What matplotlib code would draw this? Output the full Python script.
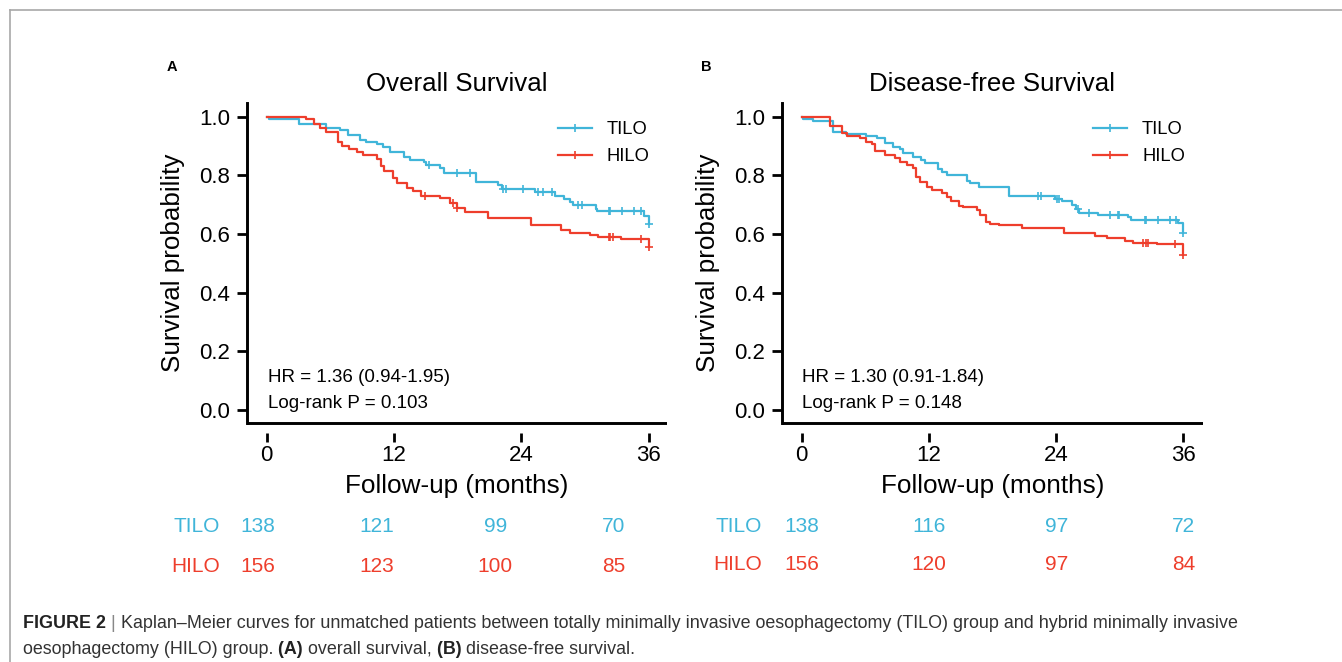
import numpy as np
import matplotlib
matplotlib.use('Agg')
import matplotlib.pyplot as plt
from matplotlib.lines import Line2D

plt.rcParams['font.family'] = ['Liberation Sans', 'DejaVu Sans']

W, H, DPI = 1342, 662, 100
TILO_COLOR = '#40B5D9'
HILO_COLOR = '#EE3E2C'

# ---------------- data ----------------
group_names = ['TILO', 'HILO']
risk_times = [0, 12, 24, 36]
x_ticks = [0, 12, 24, 36]
y_ticks = [0.0, 0.2, 0.4, 0.6, 0.8, 1.0]
y_tick_labels = ['0.0', '0.2', '0.4', '0.6', '0.8', '1.0']

# Panel A : overall survival
os_tilo_time = [0, 0.2, 3.0, 5.6, 6.9, 7.7, 8.8, 9.4, 10.4, 11.0, 11.6, 12.9, 13.5, 14.8,
                15.0, 16.3, 16.7, 19.7, 21.8, 22.2, 25.3, 27.2, 28.0, 28.6, 28.9, 31.0,
                31.1, 35.6, 36.0]
os_tilo_surv = [1.0, 0.993, 0.976, 0.961, 0.955, 0.936, 0.922, 0.915, 0.907, 0.898, 0.881,
                0.861, 0.852, 0.844, 0.837, 0.825, 0.808, 0.776, 0.768, 0.755, 0.743, 0.730,
                0.720, 0.709, 0.698, 0.686, 0.677, 0.661, 0.633]
os_tilo_censor = [15.3, 17.9, 19.2, 22.3, 22.6, 24.2, 25.6, 26.0, 26.9, 29.3, 29.7, 32.3,
                  32.4, 33.5, 34.6, 35.3, 36.0]

os_hilo_time = [0, 3.75, 4.5, 5.0, 5.6, 6.7, 7.1, 7.8, 8.5, 9.1, 10.4, 10.8, 11.1, 11.9,
                12.3, 13.2, 13.8, 14.5, 16.3, 17.3, 17.9, 18.7, 20.9, 24.9, 27.7, 28.6,
                30.5, 31.2, 33.4, 36.0]
os_hilo_surv = [1.0, 0.991, 0.976, 0.961, 0.947, 0.913, 0.901, 0.890, 0.878, 0.869, 0.857,
                0.832, 0.815, 0.792, 0.775, 0.758, 0.747, 0.730, 0.724, 0.707, 0.690, 0.675,
                0.655, 0.632, 0.614, 0.605, 0.597, 0.589, 0.582, 0.557]
os_hilo_censor = [14.9, 17.6, 17.9, 32.3, 32.4, 32.6, 35.3, 36.0]

os_risk_tilo = [138, 121, 99, 70]
os_risk_hilo = [156, 123, 100, 85]
os_stats = ['HR = 1.36 (0.94-1.95)', 'Log-rank P = 0.103']

# Panel B : disease-free survival
dfs_tilo_time = [0, 0.15, 1.1, 3.0, 4.2, 6.1, 7.1, 7.9, 8.6, 9.3, 9.6, 10.5, 11.3, 11.6,
                 12.9, 13.2, 13.7, 15.6, 15.9, 16.7, 19.6, 23.9, 24.6, 25.5, 25.9, 26.2,
                 28.0, 30.8, 31.1, 35.5, 36.0]
dfs_tilo_surv = [1.0, 0.991, 0.985, 0.947, 0.941, 0.934, 0.926, 0.909, 0.898, 0.889, 0.875,
                 0.864, 0.852, 0.841, 0.820, 0.813, 0.801, 0.781, 0.773, 0.759, 0.730, 0.720,
                 0.712, 0.699, 0.684, 0.672, 0.665, 0.657, 0.647, 0.638, 0.602]
dfs_tilo_censor = [22.3, 22.6, 24.1, 24.3, 26.1, 27.1, 29.1, 29.8, 29.9, 32.4, 32.5, 33.6,
                   34.7, 35.3, 36.0]

dfs_hilo_time = [0, 2.67, 3.77, 4.24, 5.5, 6.1, 6.6, 6.9, 7.9, 8.8, 9.3, 9.9, 10.5, 10.8,
                 11.2, 11.8, 12.3, 13.2, 13.7, 14.1, 14.8, 15.2, 16.5, 16.8, 17.4, 17.8,
                 18.6, 20.8, 24.7, 27.7, 28.8, 30.5, 31.3, 33.5, 36.0]
dfs_hilo_surv = [1.0, 0.968, 0.943, 0.934, 0.926, 0.915, 0.906, 0.883, 0.869, 0.858, 0.846,
                 0.835, 0.824, 0.795, 0.778, 0.759, 0.750, 0.739, 0.727, 0.712, 0.695, 0.691,
                 0.682, 0.665, 0.642, 0.634, 0.631, 0.622, 0.602, 0.593, 0.585, 0.577, 0.570,
                 0.565, 0.528]
dfs_hilo_censor = [32.2, 32.5, 32.7, 35.2, 36.0]

dfs_risk_tilo = [138, 116, 97, 72]
dfs_risk_hilo = [156, 120, 97, 84]
dfs_stats = ['HR = 1.30 (0.91-1.84)', 'Log-rank P = 0.148']

# ---------------- figure ----------------
fig = plt.figure(figsize=(W / DPI, H / DPI), dpi=DPI)


def px_axes(left, right, top, bottom):
    return fig.add_axes([left / W, 1 - bottom / H, (right - left) / W, (bottom - top) / H])


def step_value(times, surv, t):
    idx = np.searchsorted(np.asarray(times), np.asarray(t), side='right') - 1
    return np.asarray(surv)[idx]


Y_MIN, Y_MAX, Y_AXIS = -0.0784, 1.0467, -0.0453


def km_panel(box, xlim, letter, title, curves, stats):
    left, right, top, bottom = box
    hgt = bottom - top
    wid = right - left
    ax = px_axes(left, right, top, bottom)
    ax.set_xlim(*xlim)
    ax.set_ylim(Y_MIN, Y_MAX)
    handles = []
    for name, color, t, s, c in curves:
        ax.step(t, s, where='post', color=color, lw=1.6, zorder=3)
        ax.plot(c, step_value(t, s, c), ls='none', marker='+', ms=6, mew=1.2,
                color=color, zorder=4)
        handles.append(Line2D([], [], color=color, lw=1.6, marker='+', ms=6, mew=1.2,
                              label=name))
    for sp in ['top', 'right', 'bottom']:
        ax.spines[sp].set_visible(False)
    ax.spines['left'].set_linewidth(2.1)
    ax.spines['left'].set_bounds(Y_AXIS, Y_MAX)
    ax.axhline(Y_AXIS, color='black', lw=2.1, zorder=5)
    ax.set_xticks(x_ticks)
    ax.set_yticks(y_ticks)
    ax.set_yticklabels(y_tick_labels)
    ax.tick_params(axis='y', length=7, width=2, labelsize=16, pad=5)
    ax.tick_params(axis='x', length=6.5, width=2, labelsize=16, pad=2)
    ax.set_ylabel('Survival probability', fontsize=18.7)
    ax.yaxis.label.set_va('center')
    ax.yaxis.set_label_coords(-74.0 / wid, (bottom - 263) / hgt)
    ax.set_xlabel('Follow-up (months)', fontsize=18.8)
    ax.xaxis.set_label_coords(0.5, (bottom - 486) / hgt)
    ax.xaxis.label.set_va('center')
    ax.text(0.5, (bottom - 84) / hgt, title, transform=ax.transAxes,
            ha='center', va='center', fontsize=18.6)
    fig.text((left - 75) / W, 1 - 67 / H, letter, fontsize=10.5, fontweight='bold',
             ha='center', va='center')
    for txt, yy in zip(stats, [377.0, 403.5]):
        ax.text(20.5 / wid, (bottom - yy) / hgt, txt,
                transform=ax.transAxes, ha='left', va='center', fontsize=13.5)
    ax.legend(handles=handles, loc='upper left',
              bbox_to_anchor=(0.74, (bottom - 121) / hgt),
              frameon=False, fontsize=13.2, handlelength=1.85, handletextpad=0.8,
              labelspacing=0.55, borderpad=0, borderaxespad=0, numpoints=1)
    return ax


def risk_table(x0, x36, label_right, rows):
    rax = px_axes(x0, x36, 500, 590)
    rax.set_xlim(0, 36)
    rax.set_ylim(590, 500)
    rax.axis('off')
    ppm = (x36 - x0) / 36.0
    for name, color, counts, yy in rows:
        rax.text((label_right - x0) / ppm, yy, name, color=color, fontsize=15,
                 ha='right', va='center')
        for t, n in zip(risk_times, counts):
            rax.text(t, yy, str(n), color=color, fontsize=15, ha='center', va='center')


km_panel((247, 667, 103, 433), (-1.857, 37.73), 'A', 'Overall Survival',
         [(group_names[0], TILO_COLOR, os_tilo_time, os_tilo_surv, os_tilo_censor),
          (group_names[1], HILO_COLOR, os_hilo_time, os_hilo_surv, os_hilo_censor)],
         os_stats)
km_panel((781.7, 1203, 103, 433), (-1.887, 37.86), 'B', 'Disease-free Survival',
         [(group_names[0], TILO_COLOR, dfs_tilo_time, dfs_tilo_surv, dfs_tilo_censor),
          (group_names[1], HILO_COLOR, dfs_hilo_time, dfs_hilo_surv, dfs_hilo_censor)],
         dfs_stats)

risk_table(257.5, 614, 220, [(group_names[0], TILO_COLOR, os_risk_tilo, 526),
                             (group_names[1], HILO_COLOR, os_risk_hilo, 566)])
risk_table(801.7, 1183.5, 762, [(group_names[0], TILO_COLOR, dfs_risk_tilo, 526),
                                (group_names[1], HILO_COLOR, dfs_risk_hilo, 564)])

# frame lines
fig.add_artist(Line2D([10 / W, 1], [1 - 10 / H, 1 - 10 / H], color='#A8A8A8', lw=1.2,
                      transform=fig.transFigure))
fig.add_artist(Line2D([10 / W, 10 / W], [1 - 10 / H, 0], color='#A8A8A8', lw=1.2,
                      transform=fig.transFigure))

# caption
CAP_FS = 12.9
line1 = [('FIGURE 2', 'bold', '#222222'), (' |', 'normal', '#888888'),
         (' Kaplan\u2013Meier curves for unmatched patients between totally minimally invasive '
          'oesophagectomy (TILO) group and hybrid minimally invasive', 'normal', '#333333')]
line2 = [('oesophagectomy (HILO) group.', 'normal', '#333333'), (' (A)', 'bold', '#222222'),
         (' overall survival,', 'normal', '#333333'), (' (B)', 'bold', '#222222'),
         (' disease-free survival.', 'normal', '#333333')]


def draw_rich(pieces, x, y):
    renderer = fig.canvas.get_renderer()
    cur_x = x
    for txt, wt, col in pieces:
        t = fig.text(cur_x / W, 1 - y / H, txt, fontsize=CAP_FS, fontweight=wt, color=col,
                     ha='left', va='center')
        bb = t.get_window_extent(renderer)
        cur_x += bb.width


draw_rich(line1, 23, 624)
draw_rich(line2, 23, 649)

fig.savefig('out.png', dpi=DPI)
